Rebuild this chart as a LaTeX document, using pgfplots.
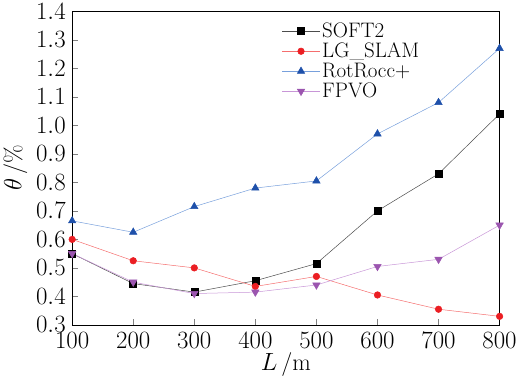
\documentclass[border=0pt]{standalone}
\usepackage{pgfplots}
\pgfplotsset{compat=1.18}
\definecolor{cblue}{RGB}{30,80,170}
\definecolor{lblue}{RGB}{120,160,220}
\definecolor{cpurp}{RGB}{155,85,175}
\definecolor{lpurp}{RGB}{200,150,215}
\definecolor{cred}{RGB}{235,30,35}
\definecolor{lred}{RGB}{245,110,110}
\begin{document}
\begin{tikzpicture}
\begin{axis}[
  scale only axis, width=428pt, height=314pt,
  xmin=100, xmax=800, ymin=0.3, ymax=1.4,
  xtick={100,200,...,800}, ytick={0.3,0.4,...,1.4},
  yticklabel style={/pgf/number format/fixed,/pgf/number format/fixed zerofill,/pgf/number format/precision=1, xshift=-3pt},
  tick align=inside, xtick pos=bottom, ytick pos=left,
  major tick length=6pt,
  ticklabel style={font=\fontsize{24}{24}\selectfont},
  xticklabel style={yshift=-4pt},
  xlabel={$L$\,/m}, ylabel={$\theta$\,/\%},
  label style={font=\fontsize{24}{24}\selectfont},
  xlabel style={yshift=3pt}, ylabel style={yshift=2pt},
  legend style={draw=none, fill=none, at={(0.49,0.97)}, anchor=north west, font=\fontsize{21}{21}\selectfont, row sep=0pt, inner sep=0pt},
  legend cell align=left,
  legend image code/.code={\draw[mark repeat=2,mark phase=2] plot coordinates {(0pt,0pt)(19pt,0pt)(38pt,0pt)};},
  every axis plot/.append style={line width=0.5pt},
]
\addplot[black!70, mark=square*, mark size=3.5pt, mark options={black}] coordinates {(100,0.55)(200,0.445)(300,0.415)(400,0.455)(500,0.515)(600,0.70)(700,0.83)(800,1.04)};
\addlegendentry{SOFT2}
\addplot[lred, mark=*, mark size=3.3pt, mark options={cred, draw=cred}] coordinates {(100,0.60)(200,0.525)(300,0.50)(400,0.435)(500,0.47)(600,0.405)(700,0.355)(800,0.33)};
\addlegendentry{LG\_SLAM}
\addplot[lblue, mark=triangle*, mark size=4.3pt, mark options={cblue, draw=cblue}] coordinates {(100,0.665)(200,0.625)(300,0.715)(400,0.78)(500,0.805)(600,0.97)(700,1.08)(800,1.27)};
\addlegendentry{RotRocc+}
\addplot[lpurp, mark=triangle*, mark size=4.3pt, mark options={cpurp, draw=cpurp, rotate=180}] coordinates {(100,0.55)(200,0.45)(300,0.41)(400,0.415)(500,0.44)(600,0.505)(700,0.53)(800,0.65)};
\addlegendentry{FPVO}
\end{axis}
\end{tikzpicture}
\end{document}
